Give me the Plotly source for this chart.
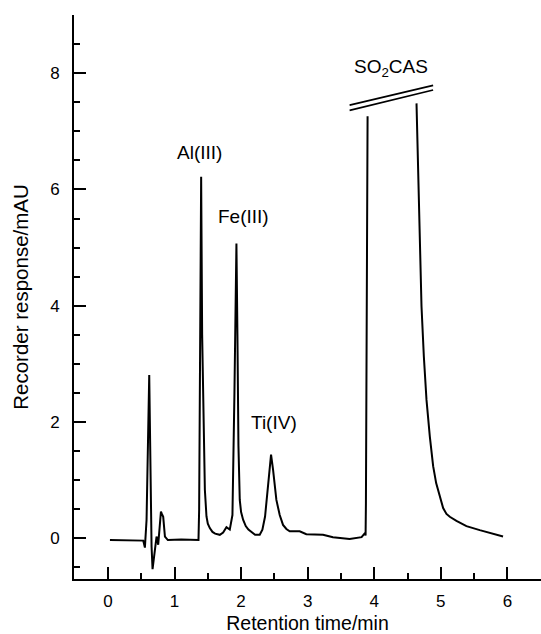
import plotly.graph_objects as go

# Chromatogram (retention time in min, response in mAU)
time_min = [0.03, 0.2, 0.4, 0.53, 0.555, 0.58, 0.62, 0.64, 0.655, 0.67, 0.705, 0.73, 0.755, 0.78, 0.796,
             0.81, 0.83, 0.856, 0.9, 1.1, 1.36, 1.37, 1.385, 1.40, 1.415, 1.43, 1.445, 1.456, 1.48, 1.50, 1.53,
             1.57, 1.61, 1.68, 1.73, 1.78, 1.83, 1.87, 1.90, 1.93, 1.945, 1.96, 1.98, 2.0, 2.03, 2.07, 2.11,
             2.21, 2.28, 2.32, 2.36, 2.41, 2.45, 2.48, 2.53, 2.58, 2.63, 2.68, 2.73, 2.88, 2.98, 3.23, 3.38,
             3.63, 3.81, 3.86, 3.87, 3.875, 3.90, None,
             4.635, 4.65, 4.67, 4.69, 4.71, 4.745, 4.785, 4.835, 4.885, 4.93, 4.985, 5.035, 5.085, 5.135,
             5.235, 5.385, 5.585, 5.785, 5.935]
response = [-0.03, -0.03, -0.03, -0.04, -0.16, 0.32, 2.81, 0.78, -0.14, -0.53, -0.14, 0.03, -0.11, 0.30, 0.46,
            0.42, 0.37, 0.03, -0.03, -0.02, -0.03, 0.5, 3.5, 6.22, 3.5, 2.4, 1.3, 0.83, 0.375, 0.25, 0.175,
            0.11, 0.08, 0.06, 0.10, 0.19, 0.15, 0.4, 2.5, 5.07, 3.5, 1.6, 0.66, 0.45, 0.32, 0.21, 0.15,
            0.06, 0.06, 0.15, 0.375, 1.0, 1.44, 1.18, 0.66, 0.40, 0.23, 0.16, 0.12, 0.12, 0.07, 0.06, 0.02,
            -0.01, 0.02, 0.09, 0.05, 0.6, 7.26, None,
            7.48, 6.7, 5.6, 4.6, 3.99, 3.13, 2.38, 1.75, 1.24, 0.95, 0.72, 0.52, 0.42, 0.37,
            0.30, 0.21, 0.14, 0.08, 0.03]

peak_labels = ["Al(III)", "Fe(III)", "Ti(IV)", "SO<sub>2</sub>CAS"]
label_x = [1.38, 2.03, 2.50, 4.25]
label_y = [6.63, 5.53, 1.99, 8.09]

# axis break marks (two parallel slanted lines over the off-scale SO2CAS peak)
break_x = [3.63, 4.885]
break_upper = [7.45, 7.79]
break_lower = [7.36, 7.71]

FONT = "Liberation Sans, Arial, Helvetica, sans-serif"

fig = go.Figure()
fig.add_trace(go.Scatter(x=time_min, y=response, mode="lines",
                         line=dict(color="black", width=2), connectgaps=False,
                         hoverinfo="skip", showlegend=False))

for yy in (break_upper, break_lower):
    fig.add_shape(type="line", xref="x", yref="y", x0=break_x[0], x1=break_x[1], y0=yy[0], y1=yy[1],
                  line=dict(color="black", width=1.6))

for t, xx, yy in zip(peak_labels, label_x, label_y):
    fig.add_annotation(x=xx, y=yy, text=t, showarrow=False, xref="x", yref="y",
                       font=dict(family=FONT, size=19, color="black"))

axis_common = dict(showline=True, linecolor="black", linewidth=2, ticks="inside", tickcolor="black",
                   tickwidth=2, ticklen=12, showgrid=False, zeroline=False,
                   tickfont=dict(family=FONT, size=17, color="black"))

fig.update_xaxes(range=[-0.51, 6.505], dtick=1, tick0=0,
                 minor=dict(dtick=0.5, ticks="inside", ticklen=6, tickwidth=2, tickcolor="black", showgrid=False),
                 title=dict(text="Retention time/min", font=dict(family=FONT, size=19.5, color="black"), standoff=9),
                 ticklabelstandoff=6, **axis_common)
fig.update_yaxes(range=[-0.70, 9.0], dtick=2, tick0=0,
                 minor=dict(dtick=0.5, ticks="inside", ticklen=6, tickwidth=2, tickcolor="black", showgrid=False),
                 title=dict(text="Recorder response/mAU", font=dict(family=FONT, size=20.5, color="black"), standoff=16),
                 ticklabelstandoff=9, **axis_common)

fig.update_layout(width=541, height=634, margin=dict(l=74, r=0, t=15, b=55, autoexpand=False),
                  plot_bgcolor="white", paper_bgcolor="white", showlegend=False)

fig.write_html("out.html")
